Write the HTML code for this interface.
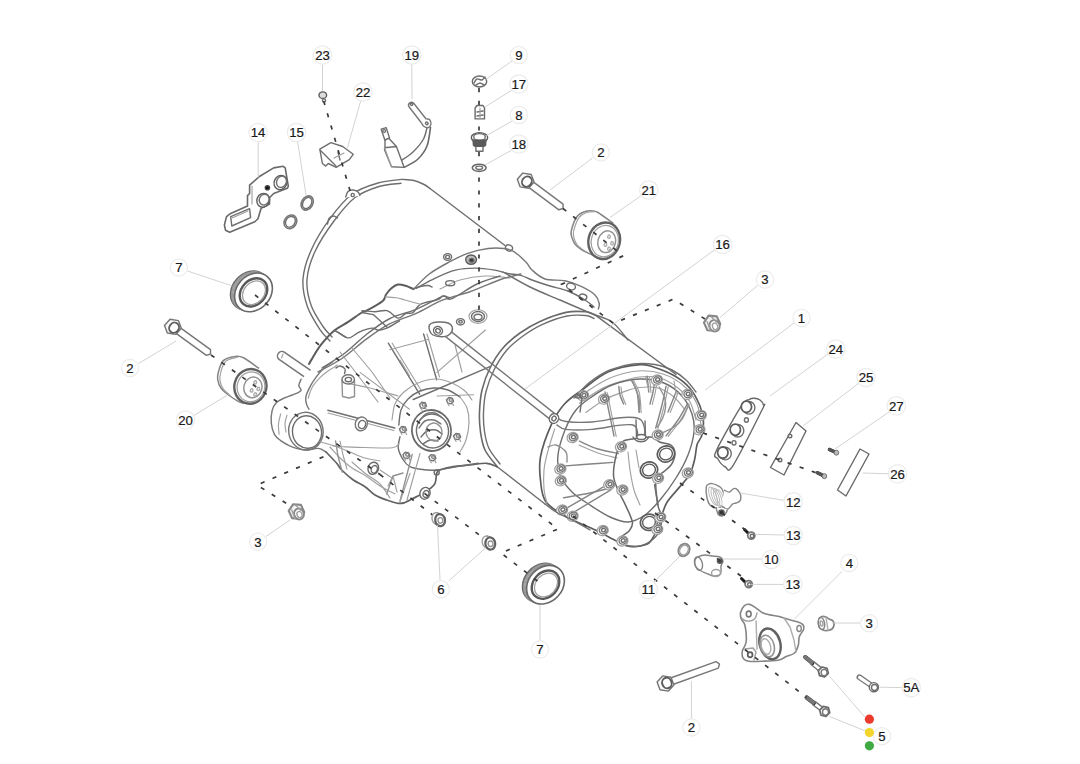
<!DOCTYPE html>
<html><head><meta charset="utf-8"><style>
html,body{margin:0;padding:0;background:#fff;width:1080px;height:764px;overflow:hidden}
svg{display:block}

.l{fill:none;stroke:#6e6e6e;stroke-width:1.4;stroke-linejoin:round;stroke-linecap:round}
.lt{fill:none;stroke:#a0a0a0;stroke-width:1.15;stroke-linejoin:round;stroke-linecap:round}
.lw{fill:#fff;stroke:#6e6e6e;stroke-width:1.4;stroke-linejoin:round}

.dash{fill:none;stroke:#3a3a3a;stroke-width:1.7;stroke-dasharray:4.2 8.6}
.ldr{fill:none;stroke:#cdcdcd;stroke-width:0.9}
.lab circle{fill:#fff;stroke:#ececec;stroke-width:1.2}
.lab text{font-family:"Liberation Sans",sans-serif;font-size:13.2px;fill:#1a1a1a;stroke:#1a1a1a;stroke-width:0.22;text-anchor:middle}

</style></head><body>
<svg width="1080" height="764" viewBox="0 0 1080 764">
<g>
<path class="l" d="M401.6 179.4 C397.7 180 386.2 180.6 378 183 C369.8 185.4 360.2 188.1 352.3 194 C344.4 199.9 337.1 208.9 330.3 218.2 C323.5 227.5 315.9 239.6 311.4 249.7 C306.8 259.8 303.7 269.6 303 279 C302.3 288.4 304.5 297.9 307.3 306.3 C310.1 314.7 316 323.5 319.8 329.3 C323.6 335.1 328.3 339.1 330 341" />
<path class="l" d="M401 183.2 C397.3 183.8 386.7 184.1 379 186.5 C371.3 188.9 362.5 191.8 355 197.5 C347.5 203.2 340.7 212 334 221 C327.3 230 319.5 241.8 315 251.5 C310.5 261.2 307.7 270.6 307 279.5 C306.3 288.4 308.3 297.2 311 305 C313.7 312.8 319.5 321.2 323 326.5 C326.5 331.8 330.5 335.2 332 337" />
<path class="l" d="M401.6 179.4 C403.7 179.6 410.3 179.7 414 180.5 C417.7 181.3 421.3 183.2 424 184.5 C426.7 185.8 429 187.8 430 188.5" />
<path class="l" d="M430 188.5 L505 245.5" />
<path class="lw" d="M345.5 197.5 C345.9 196.5 346.8 192.8 348 191.5 C349.2 190.2 351.3 189.9 353 190 C354.7 190.1 356.8 191 358 192 C359.2 193 359.7 195.3 360 196" />
<circle class="l" cx="352.7" cy="195" r="1.6" />
<path class="l" d="M327.5 224 C327.8 223.1 328 219.8 329 218.5 C330 217.2 332.1 216.1 333.5 216 C334.9 215.9 336.8 217.7 337.5 218" />
<ellipse class="lw" cx="509" cy="248" rx="3.6" ry="3" transform="rotate(20 509 248)" />
<path class="l" d="M595 314.9 C593.5 314.4 590.8 312.2 586 311.8 C581.2 311.4 573.7 310.8 566 312.4 C558.3 314 547.7 318 540 321.4 C532.3 324.8 526.2 328.6 520 333 C513.8 337.4 508 342.2 503 348 C498 353.8 493.5 361 490 368 C486.5 375 483.8 382.7 482 390 C480.2 397.3 479.8 405 479.5 412 C479.2 419 479.6 425.7 480.5 432 C481.4 438.3 482.2 444.2 485 450 C487.8 455.8 495.2 463.9 497.2 466.7" style="stroke:#696969;stroke-width:1.60"/>
<path class="l" d="M594 318.5 C592.7 318 590.5 315.9 586 315.5 C581.5 315.1 574.3 314.5 567 316 C559.7 317.5 549.3 321.3 542 324.6 C534.7 327.9 528.9 331.7 523 336 C517.1 340.3 511.3 344.8 506.5 350.5 C501.7 356.2 497.4 363.2 494 370 C490.6 376.8 487.8 384.5 486 391.5 C484.2 398.5 483.8 405.3 483.5 412 C483.2 418.7 483.6 425.4 484.5 431.5 C485.4 437.6 486.4 443.1 489 448.5 C491.6 453.9 498.2 461.4 500 464" />
<path class="l" d="M595 314.9 L676 374.5" />
<path class="l" d="M497.2 466.7 L545 504" />
<path class="l" d="M309 364 C309.4 363.3 309.5 362.8 311.5 359.6 C313.5 356.4 317 349.8 320.9 344.9 C324.8 340 330.1 334.1 334.6 330.3 C339.2 326.5 343.7 324.9 348.2 321.9 C352.7 318.9 358.7 314.4 361.8 312.5 C364.9 310.6 363.5 312.3 367 310.4 C370.5 308.5 379.6 303.5 382.7 300.9 C385.8 298.3 384.5 296.8 385.9 294.7 C387.3 292.6 389.1 290.1 391.1 288.4 C393.1 286.7 395.5 284.9 397.9 284.5 C400.3 284.1 403.1 285 405.7 285.8 C408.3 286.6 412.3 288.6 413.6 289.1" style="stroke:#5c5c5c;stroke-width:2.00"/>
<path class="l" d="M413.6 289.1 C416.2 286.6 423.4 278.5 429.3 274 C435.2 269.5 442.4 265.7 448.9 262.2 C455.4 258.7 462 255.4 468.5 253.1 C475 250.8 482.2 249.3 488.1 248.5 C494 247.7 499.4 247.9 503.8 248.5 C508.2 249.1 510.6 249.5 514.3 251.8 C518 254.1 523.1 259.2 526.1 262.2 C529.1 265.2 528.9 267.2 532 270 C535.1 272.8 539.5 277.2 545 279 C550.5 280.8 558.9 279.5 565 280.8 C571.1 282.1 576.7 284.3 581.7 286.7 C586.7 289.1 592.1 292.2 595 295 C597.9 297.8 598.7 301 599.2 303.3 C599.8 305.6 598.4 308.1 598.3 309" style="stroke:#777777;stroke-width:1.44"/>
<path class="l" d="M416.2 288.4 C419.5 286.6 429.3 280.9 435.8 277.9 C442.3 274.8 448.9 271.7 455.4 270.1 C461.9 268.5 468.4 268.1 475 268.1 C481.6 268.1 489.2 269.2 494.7 270.1 C500.2 271 503.5 272.5 507.8 273.4 C512.1 274.3 516.8 274.2 520.8 275.3 C524.8 276.4 527.1 278.2 532 280 C536.9 281.8 544 284.2 550 286 C556 287.8 562.2 288.7 568 291 C573.8 293.3 580.7 297.3 585 300 C589.3 302.7 592.5 305.8 594 307" />
<path class="lt" d="M440 289 C443.3 287.5 452.5 282.2 460 280 C467.5 277.8 476.7 276.3 485 276 C493.3 275.7 505.8 277.7 510 278" />
<ellipse class="l" cx="571" cy="286.5" rx="4.5" ry="3.2" transform="rotate(15 571 286.5)" />
<ellipse class="l" cx="583" cy="297" rx="3.8" ry="2.8" transform="rotate(15 583 297)" />
<path class="l" d="M318 372 C322 369.8 333.7 364.1 341.9 358.5 C350.1 352.9 359 344.4 367 338.6 C375 332.8 381.8 327.9 390 323.7 C398.2 319.5 407.5 317.2 416.2 313.3 C424.9 309.4 433.6 303.7 442.3 300.2 C451 296.7 461.9 294.5 468.5 292.3 C475.1 290.1 476.2 289.3 481.6 287.1 C487.1 284.9 494.7 281.5 501.2 279.3 C507.7 277.1 517.5 274.9 520.8 274" style="stroke:#777777;stroke-width:1.44"/>
<path class="l" d="M322 368 C325.8 365.5 337.5 358.7 345 353 C352.5 347.3 359.5 339.8 367 334 C374.5 328.2 381.8 322.6 390 318.5 C398.2 314.4 407.9 312.8 416.2 309.3 C424.5 305.8 434.9 299.8 439.7 297.6 C444.5 295.4 443 296.1 445 296.3 C447 296.5 446.2 300.9 451.5 298.9 C456.8 296.8 468.9 287.8 477 284 C485.1 280.2 496.2 277.3 500 276" />
<path class="l" d="M503 272 C507.5 274.5 520.5 282.3 530 287 C539.5 291.7 550 295.7 560 300 C570 304.3 581.3 309.3 590 313 C598.7 316.7 605.7 317.5 612 322 C618.3 326.5 625.3 337 628 340" />
<path class="l" d="M333.5 331.3 C334 331.3 334.6 330.3 336.6 331.3 C338.6 332.3 343.4 336.1 345.7 337.1 C348 338.2 348.1 338.4 350.3 337.6 C352.5 336.8 355.8 333.8 358.6 332.4 C361.4 331 364.6 329.9 367 329.2 C369.4 328.5 371.4 328 373.3 328.2 C375.2 328.4 376.2 330.3 378.5 330.3 C380.8 330.3 383.4 329.8 386.9 328.2 C390.4 326.6 397.4 322 399.5 320.8" />
<path class="l" d="M361.8 312.5 L373.3 314.6 L386.9 327.1" />
<path class="l" d="M334.6 330.3 L345.7 337.1" />
<path class="l" d="M362 310.7 C364.2 310.9 370.8 311.7 375 311.7 C379.2 311.7 383.1 309.6 387 310.7 C390.9 311.8 395 317.6 398.1 318.1 C401.2 318.6 403.1 314.4 405.6 313.5 C408.1 312.6 410.5 314.1 413 312.6 C415.5 311.1 416.2 306.5 420.4 304.3 C424.6 302.1 434.3 301 438 299.6 C441.7 298.2 440.6 296.2 442.6 295.9 C444.6 295.6 448.8 297.5 450 297.8" />
<path class="lt" d="M385.2 296.9 C387.1 297 393 297.3 396.3 297.8 C399.6 298.3 401 298.9 405 300 C409 301.1 417.8 303.6 420.4 304.3" />
<path class="l" d="M413 289 C414.2 288.6 417.9 287.1 420.4 286.5 C422.9 285.9 426.1 285.4 428 285.5 C429.9 285.6 431.3 286.8 432 287" />
<path class="l" d="M388.3 343.2 L419.7 394.2" />
<path class="lt" d="M392.2 343.2 L421.5 391" />
<path class="l" d="M423.6 334 L436.7 379.8" />
<path class="lt" d="M427 334 L439.5 377" />
<path class="lt" d="M455 345 L462 372" />
<path class="l" d="M413.2 399.5 L490 366.7" />
<path class="lt" d="M437 372.4 L485.4 330" />
<path class="lt" d="M437 396 L473.6 394.8" />
<path class="lt" d="M389.6 349.7 L428.9 339.3" />
<path class="lt" d="M352 348 L372 372 L390 398" />
<path class="lt" d="M340 352 L360 378 L378 402" />
<path class="lt" d="M345 383 C349.2 383.8 361.2 385.8 370 388 C378.8 390.2 393.3 394.7 398 396" />
<path class="l" d="M336 368 C336.7 367.7 338.5 365.8 340 366 C341.5 366.2 344.2 367.7 345 369 C345.8 370.3 344.6 372.8 344.5 373.6" />
<path class="l" d="M342 380 L342.5 396.5 L349 398 L354.5 396.5 L354.5 380" style="stroke:#929292"/>
<ellipse class="lw" cx="348.2" cy="379.4" rx="6.2" ry="4.6" style="stroke:#777777"/>
<ellipse class="l" cx="348.4" cy="379.6" rx="3.2" ry="2.2" />
<path class="l" d="M327.8 410.3 L394.8 428" />
<path class="lt" d="M328 413 L394 430.5" />
<ellipse class="lw" cx="361.3" cy="423.9" rx="6" ry="7" transform="rotate(20 361.3 423.9)" style="stroke:#777777"/>
<ellipse class="l" cx="362" cy="424.5" rx="3.5" ry="4.2" transform="rotate(20 362 424.5)" />
<path class="lt" d="M360.3 372.6 L409.5 409.2" />
<path class="lt" d="M400 360 L409.5 375.7" />
<ellipse class="lw" cx="447.6" cy="257" rx="4" ry="3.4" />
<ellipse class="l" cx="447.6" cy="257" rx="2" ry="1.6" />
<ellipse class="lw" cx="471.1" cy="259.6" rx="5.4" ry="4.6" style="fill:#bdbdbd;stroke:#5c5c5c"/>
<ellipse class="l" cx="471.6" cy="260.3" rx="2.4" ry="1.9" style="fill:#333"/>
<ellipse class="l" cx="450.2" cy="283.2" rx="4.5" ry="2.6" />
<ellipse class="lt" cx="478" cy="316.5" rx="9" ry="6.8" />
<ellipse class="lw" cx="478" cy="316.5" rx="6.5" ry="5" />
<ellipse class="l" cx="478" cy="317" rx="4" ry="2.8" />
<ellipse class="lw" cx="460.5" cy="321.8" rx="4" ry="3.2" />
<ellipse class="l" cx="460.5" cy="321.8" rx="1.8" ry="1.3" />
<path class="lw" d="M310.6 370.3 L284.6 352.3 A4.5 4.5 0 0 0 279.4 359.7 L304 376.7" style="stroke:#777777;stroke-width:1.52"/>
<path class="lt" d="M283 354 L281.5 358" />
<path class="l" d="M332.6 362 C331.2 363 326.6 365.6 324 368 C321.4 370.4 319.1 373.2 316.9 376.1 C314.7 379 312.4 382.2 310.6 385.6 C308.8 389 306.6 393.5 305.9 396.6 C305.2 399.7 306.1 402.3 306.6 404.4 C307.1 406.5 308.6 408.4 309 409.2" style="stroke:#777777;stroke-width:1.44"/>
<path class="lt" d="M337.3 365.1 C335.8 366.1 330.9 368.9 328 371 C325.1 373.1 322.6 375 320 377.7 C317.4 380.4 314.2 383.8 312.2 387.2 C310.2 390.6 308.9 396.4 308.2 398.2" />
<path class="l" d="M301.1 379.3 C300.7 380.4 298.8 383.8 298.8 385.6 C298.8 387.4 301.5 389 301.1 390.3 C300.7 391.6 299.3 392.1 296.4 393.4 C293.5 394.7 287.3 396.6 283.9 398.2 C280.5 399.8 278 400.8 276 402.9 C274 405 272.9 407.3 272.1 410.7 C271.3 414.1 270.9 419.4 271.3 423.3 C271.7 427.2 272.8 431.4 274.4 434.3 C276 437.2 278.3 438.8 280.7 440.6 C283.1 442.4 286 444 288.6 445.3 C291.2 446.6 293.5 447.6 296.4 448.4 C299.3 449.2 302.2 450 305.9 450 C309.6 450 315 448.1 318.4 448.4 C321.8 448.7 324.7 451.4 326 452" style="stroke:#777777;stroke-width:1.44"/>
<path class="lt" d="M280.7 413.9 C280.3 415.6 278.8 420.6 278.5 424 C278.2 427.4 279 432.6 279.1 434.3" />
<path class="lt" d="M287 415 C286.7 416.4 285.2 420.5 285 423.3 C284.8 426.1 285.8 430.6 286 432" />
<ellipse class="l" cx="305.9" cy="431.2" rx="17.2" ry="18.9" transform="rotate(-10 305.9 431.2)" style="stroke:#777777;stroke-width:1.44"/>
<ellipse class="l" cx="307" cy="432" rx="14.5" ry="16.3" transform="rotate(-10 307 432)" />
<path class="l" d="M326 452 C327.8 453.9 334.1 460.3 336.7 463.3 C339.3 466.3 338.9 467.2 341.7 470 C344.5 472.8 349.4 477.2 353.3 480 C357.2 482.8 361.4 484.2 365 486.7 C368.6 489.2 371.4 492.8 375 495 C378.6 497.2 382.8 498.6 386.7 500 C390.6 501.4 395.2 502.9 398.3 503.3 C401.4 503.7 402.5 503.3 405 502.5 C407.5 501.7 410.8 499.6 413.3 498.3 C415.8 497.1 417.5 496.4 420 495 C422.5 493.6 425.8 491.9 428.3 490 C430.8 488.1 433.6 486.1 435 483.3 C436.4 480.5 435.9 475.5 436.7 473.3 C437.5 471.1 437.2 471.1 440 470 C442.8 468.9 448.3 467.5 453.3 466.7 C458.3 465.9 464.4 465.6 470 465 C475.6 464.4 482.2 463 486.7 463.3 C491.2 463.6 495.4 466.1 497.2 466.7" style="stroke:#616161;stroke-width:1.68"/>
<path class="lt" d="M330 447 C331.7 448.8 336.3 454.5 340 458 C343.7 461.5 347.7 465 352 468 C356.3 471 361.3 473 366 476 C370.7 479 375.2 483 380 486 C384.8 489 392.5 492.7 395 494" />
<path class="l" d="M400 436.7 C399.7 438.6 397.8 444.4 398.3 448.3 C398.9 452.2 401.4 456.9 403.3 460 C405.2 463.1 407.2 465.2 410 466.7 C412.8 468.2 415.6 468.6 420 469.2 C424.4 469.8 429.8 470.6 436.7 470 C443.6 469.4 454.8 466.9 461.7 465.8 C468.6 464.7 475.5 463.7 478.3 463.3" />
<path class="l" d="M398.8 425 C399.2 422.5 399.5 414.3 401 410 C402.5 405.7 404.8 402.2 408 399 C411.2 395.8 415.7 392.8 420 391 C424.3 389.2 429.3 388.2 434 388 C438.7 387.8 443.7 388.5 448 390 C452.3 391.5 458 395.8 460 397" />
<path class="lt" d="M392 420 C392.5 417.3 393 408.7 395 404 C397 399.3 400.2 395.5 404 392 C407.8 388.5 412.7 385.2 418 383 C423.3 380.8 430.3 379 436 379 C441.7 379 447.2 381 452 383 C456.8 385 461.7 388.2 465 391 C468.3 393.8 470.8 398.5 472 400" />
<path class="lt" d="M460 397 C461.2 398.8 465.5 403.7 467 408 C468.5 412.3 469.2 417.7 469 423 C468.8 428.3 467.5 435.2 466 440 C464.5 444.8 461 450 460 452" />
<ellipse class="lw" cx="431.5" cy="430.5" rx="19.5" ry="20.5" transform="rotate(-12 431.5 430.5)" style="stroke:#696969;stroke-width:1.76"/>
<ellipse class="l" cx="432.5" cy="431" rx="16" ry="17" transform="rotate(-12 432.5 431)" />
<path class="l" d="M420 420 C421 419 423.5 415.2 426 414 C428.5 412.8 432.5 412.5 435 413 C437.5 413.5 440 416.3 441 417" style="stroke:#777777;stroke-width:1.44"/>
<path class="l" d="M419 428 C420 426.8 422.5 422.3 425 421 C427.5 419.7 431.3 419.5 434 420 C436.7 420.5 439.8 423.3 441 424" style="stroke:#777777;stroke-width:1.44"/>
<path class="l" d="M421 437 C422 436 424.5 432.2 427 431 C429.5 429.8 433.5 429.5 436 430 C438.5 430.5 441 433.3 442 434" />
<path class="l" d="M423 444 C424.2 443.3 427.5 440.5 430 440 C432.5 439.5 436.7 440.8 438 441" />
<ellipse class="l" cx="434" cy="432" rx="8" ry="9" transform="rotate(-12 434 432)" style="stroke:#929292"/>
<path class="lw" d="M426.5 405.9 L424.2 408.4 L420.7 407.8 L419.5 404.7 L421.8 402.2 L425.3 402.8Z" style="stroke:#777777;stroke-width:1.44"/>
<ellipse class="l" cx="423.8" cy="404.7" rx="1.6" ry="1.4" style="stroke:#858585"/>
<path class="lt" d="M420.5 407.8 L422 410.3" />
<path class="lt" d="M425.5 407.8 L426.5 410.3" />
<path class="lw" d="M453.5 401.2 L451.2 403.7 L447.7 403.1 L446.5 400 L448.8 397.5 L452.3 398.1Z" style="stroke:#777777;stroke-width:1.44"/>
<ellipse class="l" cx="450.8" cy="400" rx="1.6" ry="1.4" style="stroke:#858585"/>
<path class="lt" d="M447.5 403.1 L449 405.6" />
<path class="lt" d="M452.5 403.1 L453.5 405.6" />
<path class="lw" d="M460.6 437.1 L458.3 439.6 L454.8 439 L453.6 435.9 L455.9 433.4 L459.4 434Z" style="stroke:#777777;stroke-width:1.44"/>
<ellipse class="l" cx="457.9" cy="435.9" rx="1.6" ry="1.4" style="stroke:#858585"/>
<path class="lt" d="M454.6 439 L456.1 441.5" />
<path class="lt" d="M459.6 439 L460.6 441.5" />
<path class="lw" d="M435.9 458.3 L433.6 460.8 L430.1 460.2 L428.9 457.1 L431.2 454.6 L434.7 455.2Z" style="stroke:#777777;stroke-width:1.44"/>
<ellipse class="l" cx="433.2" cy="457.1" rx="1.6" ry="1.4" style="stroke:#858585"/>
<path class="lt" d="M429.9 460.2 L431.4 462.7" />
<path class="lt" d="M434.9 460.2 L435.9 462.7" />
<path class="lw" d="M410 456 L407.7 458.5 L404.2 457.9 L403 454.8 L405.3 452.3 L408.8 452.9Z" style="stroke:#777777;stroke-width:1.44"/>
<ellipse class="l" cx="407.3" cy="454.8" rx="1.6" ry="1.4" style="stroke:#858585"/>
<path class="lt" d="M404 457.9 L405.5 460.4" />
<path class="lt" d="M409 457.9 L410 460.4" />
<path class="lw" d="M406.5 430.1 L404.2 432.6 L400.7 432 L399.5 428.9 L401.8 426.4 L405.3 427Z" style="stroke:#777777;stroke-width:1.44"/>
<ellipse class="l" cx="403.8" cy="428.9" rx="1.6" ry="1.4" style="stroke:#858585"/>
<path class="lt" d="M400.5 432 L402 434.5" />
<path class="lt" d="M405.5 432 L406.5 434.5" />
<ellipse class="lw" cx="373.3" cy="468.3" rx="5.2" ry="6.2" transform="rotate(20 373.3 468.3)" style="stroke:#696969"/>
<ellipse class="l" cx="374.3" cy="469.3" rx="3" ry="3.8" transform="rotate(20 374.3 469.3)" />
<ellipse class="lw" cx="425" cy="493.3" rx="5" ry="6" transform="rotate(20 425 493.3)" style="stroke:#696969"/>
<ellipse class="l" cx="426" cy="494" rx="2.8" ry="3.5" transform="rotate(20 426 494)" />
<ellipse class="l" cx="436.7" cy="472.5" rx="2.5" ry="2.5" />
<path class="lt" d="M333 446 C334.5 446.1 336.9 446.4 342.2 446.7 C347.5 446.9 356.7 447.3 365 447.5 C373.3 447.7 386.5 448.4 392.2 447.8 C397.9 447.2 397.9 444.6 399 444" />
<path class="l" d="M335.6 441 L338 456 L342.2 472" style="stroke:#929292"/>
<path class="lt" d="M340 441 L343 455 L347 469" />
<path class="l" d="M386.7 494 L393 476 L403 473" style="stroke:#929292"/>
<path class="lt" d="M393 476 L397 492" />
<path class="lt" d="M352 462 C354.3 464 361.3 470.3 366 474 C370.7 477.7 376 480 380 484 C384 488 388.3 495.7 390 498" />
<path class="l" d="M412.2 454.4 L400 501" style="stroke:#929292"/>
<path class="lt" d="M410 473.3 L400 501.7" />
<path class="lt" d="M420 453.3 L407 500" />
<path class="lt" d="M320 441.7 C322.8 442.5 331.7 445 336.7 446.7 C341.7 448.4 345.3 450.1 350 452 C354.7 453.9 360 456.5 365 458 C370 459.5 377.5 460.5 380 461" />
<path class="lt" d="M380 470 L392 478 L388 486" />
<path class="l" d="M582 390 C589.4 384.6 598.8 376 608.5 371.8 C618.2 367.6 632.3 365.4 640 364.7 C647.7 364 649.1 365.6 654.9 367.5 C660.7 369.4 669 372.6 674.8 376 C680.6 379.4 685.6 383.2 689.7 388 C693.8 392.8 697.3 399.7 699.6 405 C701.9 410.3 702.9 414.8 703.3 419.7 C703.7 424.6 703.1 430.5 702.1 434.6 C701.1 438.8 698.4 440.5 697.1 444.6 C695.9 448.8 695.8 454.5 694.6 459.5 C693.4 464.5 692.2 469.8 689.7 474.4 C687.2 479 683.4 482.3 679.7 486.9 C676 491.5 670.2 497.2 667.3 501.8 C664.4 506.4 663.5 510.5 662.3 514.2 C661 517.9 661 520.8 659.8 524.1 C658.6 527.4 657 530.8 654.9 534.1 C652.8 537.4 651.6 541.9 647.4 544 C643.2 546.1 634.7 547 629.5 546.5 C624.3 546 622.1 543.8 616.4 541 C610.7 538.2 603.7 534 595.4 530 C587.1 526 574.9 521.8 566.6 517 C558.3 512.2 550.1 507.5 545.7 501.4 C541.4 495.3 541.4 487.8 540.5 480.4 C539.6 473 538.8 466.1 540.5 456.9 C542.2 447.7 547.1 434.1 551 425.4 C554.9 416.7 558.8 410.4 564 404.5 C569.2 398.6 574.6 395.4 582 390Z" style="stroke:#5c5c5c;stroke-width:1.68"/>
<path class="l" d="M578 394 C580 392 584.7 386 590 382 C595.3 378 602.8 373 610 370 C617.2 367 625.5 364.9 633 364 C640.5 363.1 648.5 363.5 655 364.5 C661.5 365.5 666.8 367.4 672 370 C677.2 372.6 682 376.3 686 380 C690 383.7 694.3 390 696 392" />
<path class="lt" d="M586 392 C590 389.7 601.3 381.5 610 378 C618.7 374.5 629.2 371.7 638 371 C646.8 370.3 655.3 371.5 663 374 C670.7 376.5 678.3 381 684 386 C689.7 391 694.2 397.5 697 404 C699.8 410.5 700.3 421.5 701 425" />
<path class="lt" d="M579.3 403.2 C583 400.8 595 392.3 601.5 388.8 C608 385.3 612.2 384.2 618.5 382.2 C624.8 380.2 632.6 377.7 639.5 377 C646.4 376.3 653.6 376.2 660 378 C666.4 379.8 673 384 678 388 C683 392 687 396.7 690 402 C693 407.3 695 417 696 420" />
<path class="lt" d="M585.8 412.4 C589.1 410.2 598.9 402.8 605.4 399.3 C611.9 395.8 619.3 393.4 625 391.4 C630.7 389.4 634 388.1 639.5 387.5 C645 386.9 652.2 386.4 658 388 C663.8 389.6 669.5 393.3 674 397 C678.5 400.7 683.2 407.8 685 410" />
<path class="l" d="M590 398 C596 393.8 603.7 388.2 612 385 C620.3 381.8 631.3 379.3 640 379 C648.7 378.7 657 380.2 664 383 C671 385.8 677.3 390.8 682 396 C686.7 401.2 690 408 692 414 C694 420 694.7 425.2 694 432 C693.3 438.8 691 447.3 688 455 C685 462.7 680.7 470.5 676 478 C671.3 485.5 665.2 493.8 660 500 C654.8 506.2 650.3 511.3 645 515 C639.7 518.7 633.8 521.7 628 522 C622.2 522.3 616.3 519.8 610 517 C603.7 514.2 596.3 509.2 590 505 C583.7 500.8 577 497 572 492 C567 487 562.3 481.2 560 475 C557.7 468.8 557.2 462.5 558 455 C558.8 447.5 562 437.5 565 430 C568 422.5 571.8 415.3 576 410 C580.2 404.7 584 402.2 590 398Z" />
<path class="l" d="M605 392 C605.7 395.3 607.5 404.7 609 412 C610.5 419.3 613.2 432 614 436" style="stroke:#858585"/>
<path class="lt" d="M607.2 392.5 C607.9 395.8 609.7 405.2 611.2 412.5 C612.7 419.8 615.4 432.5 616.2 436.5" />
<path class="l" d="M618.8 386.5 C619 387.9 619.2 392.1 620 395 C620.8 397.9 623 402.5 623.6 404" style="stroke:#858585"/>
<path class="lt" d="M621 387 C621.2 388.4 621.4 392.6 622.2 395.5 C623 398.4 625.2 403 625.8 404.5" />
<path class="l" d="M631.4 380.2 C632.3 382.2 635.7 386.7 637 392 C638.3 397.3 638.7 408.7 639 412" style="stroke:#858585"/>
<path class="lt" d="M633.6 380.7 C634.5 382.7 637.9 387.2 639.2 392.5 C640.5 397.8 640.9 409.2 641.2 412.5" />
<path class="l" d="M647.1 376.3 C647.2 377.6 647.7 381.4 648 384 C648.3 386.6 648.6 390.7 648.7 392" style="stroke:#858585"/>
<path class="lt" d="M649.3 376.8 C649.5 378.1 649.9 381.9 650.2 384.5 C650.5 387.1 650.8 391.2 650.9 392.5" />
<path class="l" d="M666.1 386.2 C665.4 389.3 663.7 398 662 405 C660.3 412 656.8 424.2 655.7 428.1" style="stroke:#858585"/>
<path class="lt" d="M668.3 386.7 C667.6 389.8 665.9 398.5 664.2 405.5 C662.5 412.5 659 424.8 657.9 428.6" />
<path class="l" d="M687 404.5 C685.5 407.1 681.5 414.8 678 420 C674.5 425.2 668.1 433.2 666.1 435.9" style="stroke:#858585"/>
<path class="lt" d="M689.2 405 C687.7 407.6 683.7 415.3 680.2 420.5 C676.7 425.7 670.3 433.8 668.3 436.4" />
<path class="l" d="M655 380 C654.7 382 653.8 388 653 392 C652.2 396 650.5 402 650 404" style="stroke:#858585"/>
<path class="lt" d="M657.2 380.5 C656.9 382.5 656 388.5 655.2 392.5 C654.4 396.5 652.7 402.5 652.2 404.5" />
<path class="l" d="M676 392 C675.3 393.7 673.3 398.7 672 402 C670.7 405.3 668.7 410.3 668 412" style="stroke:#858585"/>
<path class="lt" d="M678.2 392.5 C677.5 394.2 675.5 399.2 674.2 402.5 C672.9 405.8 670.9 410.8 670.2 412.5" />
<path class="l" d="M579.4 441.2 C582.5 442.5 591.5 446.9 598 449 C604.5 451.1 614.9 452.8 618.3 453.5" style="stroke:#858585"/>
<path class="lt" d="M579 445 C582.2 446.3 591.7 450.8 598 453 C604.3 455.2 613.8 457.2 617 458" />
<path class="l" d="M565.3 465.9 C569.4 465.6 582 464.6 590 464 C598 463.4 609.2 462.7 613 462.4" style="stroke:#858585"/>
<path class="l" d="M563.5 497.7 C567.9 496.9 581.8 494.8 590 493 C598.2 491.2 609.2 488.1 613 487.1" style="stroke:#858585"/>
<path class="l" d="M568 507.4 L607.7 484.4" style="stroke:#858585"/>
<path class="l" d="M571.5 513.6 L611.2 489.7" style="stroke:#858585"/>
<path class="lt" d="M554.7 428.8 C553.5 432.6 549.5 444.9 547.7 451.8 C545.9 458.7 544.6 463.6 544 470 C543.4 476.4 543.6 484.5 544.1 490 C544.6 495.5 546.5 500.8 547 503" />
<path class="l" d="M548 447 C549.3 446.7 553 444.2 556 445 C559 445.8 564.2 449.2 566 452 C567.8 454.8 566.8 460.3 567 462" style="stroke:#929292"/>
<path class="l" d="M622 442 C625 439.1 629.2 439.5 634 438.7 C638.8 437.9 646.7 436.4 651 437 C655.3 437.6 656.2 440.6 659.6 442 C663 443.4 669 443.5 671.5 445.5 C674 447.5 674.9 450.9 674.9 454 C674.9 457.1 673.2 461.5 671.5 464.3 C669.8 467.1 667.3 468.4 664.7 471 C662.1 473.6 657.1 474.3 656 480 C654.9 485.7 657 499.1 657.9 505 C658.8 510.9 660.9 511.2 661.3 515.4 C661.6 519.6 661.5 525.9 660 530 C658.5 534.1 655.3 537.3 652 540 C648.7 542.7 644.5 545.2 640 546 C635.5 546.8 628.5 546.2 625 545 C621.5 543.8 618.3 541.3 619 539 C619.7 536.7 626.8 533.8 629 531 C631.2 528.2 633 526.5 632.4 522.2 C631.8 517.9 627.8 510.2 625.5 505.1 C623.2 500 620.7 496.3 618.7 491.5 C616.7 486.7 614.1 482.1 613.6 476.2 C613.1 470.3 614.6 461.7 616 456 C617.4 450.3 619 444.9 622 442Z" style="stroke:#696969;stroke-width:1.52"/>
<path class="lt" d="M628 452 C628.3 455 629 463.7 630 470 C631 476.3 632.3 484.2 634 490 C635.7 495.8 639 502.5 640 505" />
<path class="lt" d="M636 450 C636.5 453 638.5 465 639 468" />
<path class="l" d="M654.5 484.7 L657.9 505.1" />
<path class="l" d="M636 420 L636.5 437" />
<path class="l" d="M645 421 L645.5 437" />
<path class="l" d="M633 437 C633.7 437.7 635 440.3 637 441 C639 441.7 643 441.7 645 441 C647 440.3 648.3 437.7 649 437" />
<ellipse class="lw" cx="649" cy="470" rx="8.8" ry="8" transform="rotate(-20 649 470)" style="stroke:#5c5c5c;stroke-width:1.76"/>
<ellipse class="l" cx="649" cy="470" rx="6.5" ry="5.8" transform="rotate(-20 649 470)" style="stroke:#5c5c5c"/>
<ellipse class="lw" cx="666" cy="454" rx="8.8" ry="8" transform="rotate(-20 666 454)" style="stroke:#5c5c5c;stroke-width:1.76"/>
<ellipse class="l" cx="666" cy="454" rx="6.5" ry="5.8" transform="rotate(-20 666 454)" style="stroke:#5c5c5c"/>
<ellipse class="lw" cx="649" cy="522.3" rx="8.8" ry="8" transform="rotate(-20 649 522.3)" style="stroke:#5c5c5c;stroke-width:1.76"/>
<ellipse class="l" cx="649" cy="522.3" rx="6.5" ry="5.8" transform="rotate(-20 649 522.3)" style="stroke:#5c5c5c"/>
<ellipse class="lw" cx="656.9" cy="380" rx="5.6" ry="5" transform="rotate(-20 656.9 380)" style="stroke:#a1a1a1;stroke-width:1.28"/>
<ellipse class="l" cx="657.5" cy="379.6" rx="4" ry="3.5" transform="rotate(-20 657.5 379.6)" style="stroke:#777777;stroke-width:1.36"/>
<ellipse class="l" cx="657.7" cy="379.5" rx="2" ry="1.7" transform="rotate(-20 657.7 379.5)" />
<ellipse class="lw" cx="687.3" cy="394.4" rx="5.6" ry="5" transform="rotate(-20 687.3 394.4)" style="stroke:#a1a1a1;stroke-width:1.28"/>
<ellipse class="l" cx="687.9" cy="394" rx="4" ry="3.5" transform="rotate(-20 687.9 394)" style="stroke:#777777;stroke-width:1.36"/>
<ellipse class="l" cx="688.1" cy="393.9" rx="2" ry="1.7" transform="rotate(-20 688.1 393.9)" />
<ellipse class="lw" cx="700.9" cy="415.4" rx="5.6" ry="5" transform="rotate(-20 700.9 415.4)" style="stroke:#a1a1a1;stroke-width:1.28"/>
<ellipse class="l" cx="701.5" cy="415" rx="4" ry="3.5" transform="rotate(-20 701.5 415)" style="stroke:#777777;stroke-width:1.36"/>
<ellipse class="l" cx="701.7" cy="414.9" rx="2" ry="1.7" transform="rotate(-20 701.7 414.9)" />
<ellipse class="lw" cx="699.4" cy="429.8" rx="5.6" ry="5" transform="rotate(-20 699.4 429.8)" style="stroke:#a1a1a1;stroke-width:1.28"/>
<ellipse class="l" cx="700" cy="429.4" rx="4" ry="3.5" transform="rotate(-20 700 429.4)" style="stroke:#777777;stroke-width:1.36"/>
<ellipse class="l" cx="700.2" cy="429.3" rx="2" ry="1.7" transform="rotate(-20 700.2 429.3)" />
<ellipse class="lw" cx="604" cy="399.1" rx="5.6" ry="5" transform="rotate(-20 604 399.1)" style="stroke:#a1a1a1;stroke-width:1.28"/>
<ellipse class="l" cx="604.6" cy="398.7" rx="4" ry="3.5" transform="rotate(-20 604.6 398.7)" style="stroke:#777777;stroke-width:1.36"/>
<ellipse class="l" cx="604.8" cy="398.6" rx="2" ry="1.7" transform="rotate(-20 604.8 398.6)" />
<ellipse class="lw" cx="583.1" cy="395.7" rx="5.6" ry="5" transform="rotate(-20 583.1 395.7)" style="stroke:#a1a1a1;stroke-width:1.28"/>
<ellipse class="l" cx="583.7" cy="395.3" rx="4" ry="3.5" transform="rotate(-20 583.7 395.3)" style="stroke:#777777;stroke-width:1.36"/>
<ellipse class="l" cx="583.9" cy="395.2" rx="2" ry="1.7" transform="rotate(-20 583.9 395.2)" />
<ellipse class="lw" cx="572.6" cy="437.6" rx="5.6" ry="5" transform="rotate(-20 572.6 437.6)" style="stroke:#a1a1a1;stroke-width:1.28"/>
<ellipse class="l" cx="573.2" cy="437.2" rx="4" ry="3.5" transform="rotate(-20 573.2 437.2)" style="stroke:#777777;stroke-width:1.36"/>
<ellipse class="l" cx="573.4" cy="437.1" rx="2" ry="1.7" transform="rotate(-20 573.4 437.1)" />
<ellipse class="lw" cx="560.3" cy="469" rx="5.6" ry="5" transform="rotate(-20 560.3 469)" style="stroke:#a1a1a1;stroke-width:1.28"/>
<ellipse class="l" cx="560.9" cy="468.6" rx="4" ry="3.5" transform="rotate(-20 560.9 468.6)" style="stroke:#777777;stroke-width:1.36"/>
<ellipse class="l" cx="561.1" cy="468.5" rx="2" ry="1.7" transform="rotate(-20 561.1 468.5)" />
<ellipse class="lw" cx="560.8" cy="480.8" rx="5.6" ry="5" transform="rotate(-20 560.8 480.8)" style="stroke:#a1a1a1;stroke-width:1.28"/>
<ellipse class="l" cx="561.4" cy="480.4" rx="4" ry="3.5" transform="rotate(-20 561.4 480.4)" style="stroke:#777777;stroke-width:1.36"/>
<ellipse class="l" cx="561.6" cy="480.3" rx="2" ry="1.7" transform="rotate(-20 561.6 480.3)" />
<ellipse class="lw" cx="562.1" cy="510.1" rx="5.6" ry="5" transform="rotate(-20 562.1 510.1)" style="stroke:#a1a1a1;stroke-width:1.28"/>
<ellipse class="l" cx="562.7" cy="509.7" rx="4" ry="3.5" transform="rotate(-20 562.7 509.7)" style="stroke:#777777;stroke-width:1.36"/>
<ellipse class="l" cx="562.9" cy="509.6" rx="2" ry="1.7" transform="rotate(-20 562.9 509.6)" />
<ellipse class="lw" cx="572.6" cy="516.2" rx="5.6" ry="5" transform="rotate(-20 572.6 516.2)" style="stroke:#a1a1a1;stroke-width:1.28"/>
<ellipse class="l" cx="573.2" cy="515.8" rx="4" ry="3.5" transform="rotate(-20 573.2 515.8)" style="stroke:#777777;stroke-width:1.36"/>
<ellipse class="l" cx="573.4" cy="515.7" rx="2" ry="1.7" transform="rotate(-20 573.4 515.7)" />
<ellipse class="lw" cx="602.7" cy="530.6" rx="5.6" ry="5" transform="rotate(-20 602.7 530.6)" style="stroke:#a1a1a1;stroke-width:1.28"/>
<ellipse class="l" cx="603.3" cy="530.2" rx="4" ry="3.5" transform="rotate(-20 603.3 530.2)" style="stroke:#777777;stroke-width:1.36"/>
<ellipse class="l" cx="603.5" cy="530.1" rx="2" ry="1.7" transform="rotate(-20 603.5 530.1)" />
<ellipse class="lw" cx="622.4" cy="541" rx="5.6" ry="5" transform="rotate(-20 622.4 541)" style="stroke:#a1a1a1;stroke-width:1.28"/>
<ellipse class="l" cx="623" cy="540.6" rx="4" ry="3.5" transform="rotate(-20 623 540.6)" style="stroke:#777777;stroke-width:1.36"/>
<ellipse class="l" cx="623.2" cy="540.5" rx="2" ry="1.7" transform="rotate(-20 623.2 540.5)" />
<ellipse class="lw" cx="609.2" cy="484.7" rx="5.6" ry="5" transform="rotate(-20 609.2 484.7)" style="stroke:#a1a1a1;stroke-width:1.28"/>
<ellipse class="l" cx="609.8" cy="484.3" rx="4" ry="3.5" transform="rotate(-20 609.8 484.3)" style="stroke:#777777;stroke-width:1.36"/>
<ellipse class="l" cx="610" cy="484.2" rx="2" ry="1.7" transform="rotate(-20 610 484.2)" />
<ellipse class="lw" cx="622.4" cy="490" rx="5.6" ry="5" transform="rotate(-20 622.4 490)" style="stroke:#a1a1a1;stroke-width:1.28"/>
<ellipse class="l" cx="623" cy="489.6" rx="4" ry="3.5" transform="rotate(-20 623 489.6)" style="stroke:#777777;stroke-width:1.36"/>
<ellipse class="l" cx="623.2" cy="489.5" rx="2" ry="1.7" transform="rotate(-20 623.2 489.5)" />
<ellipse class="lw" cx="621" cy="446.8" rx="5.6" ry="5" transform="rotate(-20 621 446.8)" style="stroke:#a1a1a1;stroke-width:1.28"/>
<ellipse class="l" cx="621.6" cy="446.4" rx="4" ry="3.5" transform="rotate(-20 621.6 446.4)" style="stroke:#777777;stroke-width:1.36"/>
<ellipse class="l" cx="621.8" cy="446.3" rx="2" ry="1.7" transform="rotate(-20 621.8 446.3)" />
<ellipse class="lw" cx="657.7" cy="435" rx="5.6" ry="5" transform="rotate(-20 657.7 435)" style="stroke:#a1a1a1;stroke-width:1.28"/>
<ellipse class="l" cx="658.3" cy="434.6" rx="4" ry="3.5" transform="rotate(-20 658.3 434.6)" style="stroke:#777777;stroke-width:1.36"/>
<ellipse class="l" cx="658.5" cy="434.5" rx="2" ry="1.7" transform="rotate(-20 658.5 434.5)" />
<ellipse class="lw" cx="687.8" cy="473" rx="5.6" ry="5" transform="rotate(-20 687.8 473)" style="stroke:#a1a1a1;stroke-width:1.28"/>
<ellipse class="l" cx="688.4" cy="472.6" rx="4" ry="3.5" transform="rotate(-20 688.4 472.6)" style="stroke:#777777;stroke-width:1.36"/>
<ellipse class="l" cx="688.6" cy="472.5" rx="2" ry="1.7" transform="rotate(-20 688.6 472.5)" />
<ellipse class="lw" cx="660.3" cy="517.4" rx="5.6" ry="5" transform="rotate(-20 660.3 517.4)" style="stroke:#a1a1a1;stroke-width:1.28"/>
<ellipse class="l" cx="660.9" cy="517" rx="4" ry="3.5" transform="rotate(-20 660.9 517)" style="stroke:#777777;stroke-width:1.36"/>
<ellipse class="l" cx="661.1" cy="516.9" rx="2" ry="1.7" transform="rotate(-20 661.1 516.9)" />
<ellipse class="lw" cx="658.1" cy="478.3" rx="5.6" ry="5" transform="rotate(-20 658.1 478.3)" style="stroke:#a1a1a1;stroke-width:1.28"/>
<ellipse class="l" cx="658.7" cy="477.9" rx="4" ry="3.5" transform="rotate(-20 658.7 477.9)" style="stroke:#777777;stroke-width:1.36"/>
<ellipse class="l" cx="658.9" cy="477.8" rx="2" ry="1.7" transform="rotate(-20 658.9 477.8)" />
<ellipse class="lw" cx="657.3" cy="529.4" rx="5.6" ry="5" transform="rotate(-20 657.3 529.4)" style="stroke:#a1a1a1;stroke-width:1.28"/>
<ellipse class="l" cx="657.9" cy="529" rx="4" ry="3.5" transform="rotate(-20 657.9 529)" style="stroke:#777777;stroke-width:1.36"/>
<ellipse class="l" cx="658.1" cy="528.9" rx="2" ry="1.7" transform="rotate(-20 658.1 528.9)" />
<path class="l" d="M555 417 C556.8 417.8 559.8 420.7 566 421.5 C572.2 422.3 583.3 422.6 592 422 C600.7 421.4 611 418.8 618 418 C625 417.2 630.2 417.2 634 417.5 C637.8 417.8 639.2 418.2 641 420 C642.8 421.8 643.9 425.2 644.5 428 C645.1 430.8 644.5 435.5 644.5 437" style="stroke:#777777"/>
<path class="l" d="M557 425 C558.5 425.7 560.2 428.7 566 429.4 C571.8 430.1 583.3 430.1 592 429.4 C600.7 428.7 611.3 426.2 618 425.4 C624.7 424.6 628.9 424.4 632 424.8 C635.1 425.2 635.5 426 636.5 428 C637.5 430 637.8 435.5 638 437" style="stroke:#777777"/>
<ellipse class="lw" cx="641.3" cy="437" rx="4.5" ry="2.5" />
<path class="l" d="M574 398 L578 395 L582 398 L580 412" />
<ellipse class="l" cx="578" cy="396" rx="3" ry="2" />
<path class="l" d="M688.6 404 C687.6 406.4 684.8 414.8 682.4 418.6 C680 422.4 677.5 424.6 674 427 C670.5 429.4 663.5 432.2 661.4 433.3" style="stroke:#929292"/>
<path class="l" d="M659.3 387.2 C660.2 388.9 663.5 394.4 664.6 397.7 C665.7 401 666 403.6 665.6 407.1 C665.2 410.6 663.9 415.3 662.5 418.6 C661.1 421.9 658.1 425.6 657.2 427" style="stroke:#929292"/>
<path class="l" d="M632 379.9 C632.7 381.6 634.8 386.7 636 390 C637.2 393.3 638.8 396.1 639.4 399.8 C640 403.5 639.4 410.3 639.4 412.4" style="stroke:#929292"/>
<path class="lt" d="M645.7 376.8 C645.9 377.8 646.5 380.9 647 383 C647.5 385.1 648.5 388.2 648.8 389.3" />
<path class="lt" d="M674 381 C674.2 382 674.7 384.9 675 387 C675.3 389.1 675.8 392.4 676 393.5" />
<path class="l" d="M545 504 C546.8 505.3 551.5 509.3 556 512 C560.5 514.7 566.3 517 572 520 C577.7 523 587 528.3 590 530" />
<path class="l" d="M437.7 330.4 L552.7 421.4" style="stroke:#777777"/>
<path class="l" d="M442.3 324.6 L557.3 415.6" style="stroke:#777777"/>
<path class="lw" d="M429 328 C428.7 326.1 429.5 324.5 431 323.5 C432.5 322.5 435.2 322.1 438 322 C440.8 321.9 445.6 322 448 323 C450.4 324 452.1 326.2 452.4 328 C452.7 329.8 451.4 332.6 450 334 C448.6 335.4 446.8 336.4 444 336.6 C441.2 336.8 435.5 336.4 433 335 C430.5 333.6 429.3 329.9 429 328Z" />
<ellipse class="lw" cx="438" cy="330.8" rx="4.6" ry="4.2" transform="rotate(35 438 330.8)" style="stroke:#696969"/>
<ellipse class="l" cx="438" cy="330.8" rx="2.4" ry="2.1" transform="rotate(35 438 330.8)" />
<ellipse class="lw" cx="554" cy="418.5" rx="4.5" ry="5" transform="rotate(35 554 418.5)" style="stroke:#696969"/>
<ellipse class="l" cx="554" cy="418.5" rx="2" ry="2.4" transform="rotate(35 554 418.5)" />
<path class="lw" d="M249.6 185.1 L259 176.8 L273.7 167.9 L283.1 166.3 L285.2 167.9 L288.3 186.2 L287.3 188.3 L273.7 193.5 L269.5 197.7 L269.5 204 L261.1 208.2 L258 218.7 L254.8 221.8 L229.7 232.3 L225.5 230.2 L224.4 225 L226.5 216.6 L230.7 213.4 L247.5 206.1 L247.5 195.6 L249.6 193.5Z" style="stroke:#696969;stroke-width:1.60"/>
<path class="l" d="M230.7 216.6 L249.6 208.7 L250.6 217.6 L231.8 226Z" />
<path class="lt" d="M232 218 L248 211" />
<ellipse class="lw" cx="280.5" cy="182.5" rx="6.3" ry="7.3" transform="rotate(25 280.5 182.5)" style="stroke:#5c5c5c"/>
<ellipse class="l" cx="281.5" cy="181.8" rx="4.8" ry="5.8" transform="rotate(25 281.5 181.8)" />
<ellipse class="lw" cx="263.2" cy="200.3" rx="6.3" ry="7" transform="rotate(25 263.2 200.3)" style="stroke:#5c5c5c"/>
<ellipse class="l" cx="264.2" cy="199.6" rx="4.8" ry="5.5" transform="rotate(25 264.2 199.6)" />
<circle class="l" cx="267.4" cy="187.8" r="2.1" style="fill:#111;stroke:#414141"/>
<path class="lt" d="M252 186 L252 204" />
<ellipse class="l" cx="307.2" cy="203" rx="5.6" ry="7.5" transform="rotate(30 307.2 203)" style="stroke:#777777;stroke-width:1.60"/>
<ellipse class="l" cx="307.2" cy="203" rx="4.2" ry="6" transform="rotate(30 307.2 203)" />
<ellipse class="l" cx="290.4" cy="221.8" rx="6" ry="7.2" transform="rotate(35 290.4 221.8)" style="stroke:#777777;stroke-width:1.60"/>
<ellipse class="l" cx="290.4" cy="221.8" rx="4.5" ry="5.7" transform="rotate(35 290.4 221.8)" />
<ellipse class="lw" cx="322.8" cy="95.2" rx="3.8" ry="3.3" style="stroke:#5c5c5c;fill:#ddd"/>
<ellipse class="l" cx="324" cy="100.5" rx="1.6" ry="1.6" />
<path class="lw" d="M319.8 149.1 L330.9 142.6 L342.7 146.5 L353.2 154.3 L349.3 159.6 L336.2 167.4 L328.3 163.5 L325.7 166.1 L322.4 163.5Z" />
<path class="l" d="M320.5 150.5 L336 166" />
<path class="l" d="M338 152 L340 160" />
<path class="lt" d="M334 158 L344 153" />
<path class="l" d="M404.2 167.4 C406.5 166 414.2 162.6 418 159 C421.8 155.4 424.9 151.2 427 146 C429.1 140.8 429.9 130.6 430.5 127.5" style="stroke:#696969;stroke-width:1.60"/>
<path class="l" d="M400.5 161 C402.6 159.5 409.2 155.7 413 152 C416.8 148.3 421.1 143.4 423.5 139 C425.9 134.6 426.8 127.8 427.5 125.5" />
<path class="lw" d="M426.5 119.5 L413.5 103 A3 3 0 0 0 408.8 106.5 L421.5 123" style="stroke:#777777"/>
<ellipse class="l" cx="411.5" cy="104.2" rx="1.3" ry="1.1" transform="rotate(40 411.5 104.2)" />
<path class="lw" d="M421.5 123 C421.9 123.6 422.8 125.8 424 126.5 C425.2 127.2 427.3 127.9 428.5 127.5 C429.7 127.1 430.8 125.3 431 124 C431.2 122.7 430.2 120.3 429.5 119.5 C428.8 118.7 427 119.1 426.5 119" style="stroke:#777777"/>
<ellipse class="l" cx="426.8" cy="123.3" rx="1.4" ry="1.2" transform="rotate(40 426.8 123.3)" />
<path class="lw" d="M381.2 129.2 L386.2 127.6 L389.5 138 L384.8 140Z" />
<circle class="l" cx="384.2" cy="131" r="1.4" />
<path class="l" d="M385 140 L385 147.8" />
<path class="l" d="M389 138.5 L396.4 146.5" />
<path class="lw" d="M384.6 147.8 L396.4 146.5 L404.2 167.4 L391.5 166.8 L384.6 150Z" />
<path class="lt" d="M384.6 147.8 L391.5 166.8" />
<path class="lw" d="M526 185.3 L558.9 209.8 L563 208.5 L563.1 204.2 L530.2 179.7" style="stroke:#777777;stroke-width:1.44"/>
<path class="lw" d="M534.1 182.1 L528.6 188.3 L520.2 186.9 L517.3 179.3 L522.8 173.1 L531.2 174.5Z" style="stroke:#777777;stroke-width:1.44;fill:#fafafa"/>
<ellipse class="lw" cx="526.9" cy="181.6" rx="4.7" ry="5.3" transform="rotate(36.697468907328194 526.9 181.6)" style="stroke:#5c5c5c;stroke-width:1.92"/>
<path class="l" d="M612.9 223.1 C610.4 221.3 601.4 214.5 598 212.5 C594.6 210.5 594.7 211 592.5 210.9 C590.3 210.8 587.2 210.7 584.6 211.7 C582 212.7 579 213.6 576.8 216.8 C574.6 220 572.1 227.4 571.3 230.9 C570.5 234.4 571.5 235.8 572.1 238 C572.8 240.2 573.8 242.4 575.2 244.2 C576.6 246 578.6 247.6 580.7 249 C582.8 250.4 585.4 251.7 587.8 252.9 C590.1 254.1 593.6 255.5 594.8 256" style="stroke:#858585;stroke-width:1.52"/>
<path class="lt" d="M594.7 211.7 C593.4 211.8 589.4 211.5 586.8 212.5 C584.2 213.5 581.2 214.4 579 217.6 C576.8 220.8 574.3 228.2 573.5 231.7 C572.7 235.2 573.7 236.6 574.3 238.8 C575 241 576 243.2 577.4 245 C578.8 246.8 582 249 582.9 249.8" />
<ellipse class="lw" cx="604.2" cy="240.7" rx="15.7" ry="18.4" transform="rotate(15 604.2 240.7)" style="stroke:#616161;stroke-width:2.40"/>
<ellipse class="l" cx="604.8" cy="241.1" rx="13.5" ry="15.8" transform="rotate(15 604.8 241.1)" style="stroke:#a0a0a0;stroke-width:1.28"/>
<ellipse class="l" cx="606.7" cy="241.7" rx="8.8" ry="11" transform="rotate(15 606.7 241.7)" style="stroke:#929292;stroke-width:1.44"/>
<ellipse class="l" cx="609" cy="236.7" rx="1.3" ry="1.7" transform="rotate(15 609 236.7)" style="stroke:#adadad"/>
<ellipse class="l" cx="612.1" cy="243.2" rx="1.3" ry="1.7" transform="rotate(15 612.1 243.2)" style="stroke:#adadad"/>
<ellipse class="l" cx="605.4" cy="244.7" rx="1.3" ry="1.7" transform="rotate(15 605.4 244.7)" style="stroke:#adadad"/>
<ellipse class="l" cx="609" cy="248.7" rx="1.3" ry="1.7" transform="rotate(15 609 248.7)" style="stroke:#adadad"/>
<ellipse class="lw" cx="249.5" cy="290.4" rx="21" ry="17" transform="rotate(-48 249.5 290.4)" style="stroke:#696969;stroke-width:1.76;fill:#e6e6e6"/>
<ellipse class="l" cx="250.5" cy="290.9" rx="21" ry="17" transform="rotate(-48 250.5 290.9)" style="stroke:#959595;stroke-width:1.12"/>
<ellipse class="l" cx="251.5" cy="291.4" rx="21" ry="17" transform="rotate(-48 251.5 291.4)" style="stroke:#959595;stroke-width:1.12"/>
<ellipse class="l" cx="252.5" cy="291.9" rx="21" ry="17" transform="rotate(-48 252.5 291.9)" style="stroke:#959595;stroke-width:1.12"/>
<ellipse class="lw" cx="253.5" cy="292.4" rx="21" ry="17" transform="rotate(-48 253.5 292.4)" style="stroke:#696969;stroke-width:1.60"/>
<ellipse class="l" cx="253.5" cy="292.4" rx="15.5" ry="12.2" transform="rotate(-48 253.5 292.4)" style="stroke:#585858;stroke-width:2.40"/>
<ellipse class="l" cx="254" cy="292.7" rx="13" ry="10.2" transform="rotate(-48 254 292.7)" style="stroke:#a0a0a0;stroke-width:1.28"/>
<path class="lw" d="M173.3 331.4 L206.4 355.4 L210.5 354 L210.5 349.7 L177.4 325.7" style="stroke:#777777;stroke-width:1.44"/>
<path class="lw" d="M181.3 328.2 L175.8 334.4 L167.4 333 L164.5 325.4 L170 319.2 L178.4 320.6Z" style="stroke:#777777;stroke-width:1.44;fill:#fafafa"/>
<ellipse class="lw" cx="174.1" cy="327.7" rx="4.7" ry="5.3" transform="rotate(35.88213724620421 174.1 327.7)" style="stroke:#5c5c5c;stroke-width:1.92"/>
<path class="l" d="M258.5 368 C256 366.3 247.4 359.7 243.5 357.8 C239.6 355.9 238.6 356 235.2 356.5 C231.8 357 226.1 357.9 223.3 360.6 C220.5 363.3 219.2 369.3 218.3 372.5 C217.4 375.7 217.4 377.2 217.8 379.8 C218.2 382.4 219.3 385.6 221 388 C222.7 390.4 224.9 392.2 227.9 394.5 C230.9 396.8 236.3 400.4 239 401.8 C241.7 403.2 243.2 402.8 244 403" style="stroke:#858585;stroke-width:1.52"/>
<path class="lt" d="M237.4 357.3 C235.4 358 228.3 358.7 225.5 361.4 C222.7 364.1 221.4 370.1 220.5 373.3 C219.6 376.5 219.6 378 220 380.6 C220.4 383.2 221.5 386.4 223.2 388.8 C224.9 391.2 228.9 394.2 230.1 395.3" />
<ellipse class="lw" cx="250.4" cy="386.4" rx="16" ry="17.4" transform="rotate(15 250.4 386.4)" style="stroke:#616161;stroke-width:2.40"/>
<ellipse class="l" cx="251" cy="386.8" rx="13.8" ry="15" transform="rotate(15 251 386.8)" style="stroke:#a0a0a0;stroke-width:1.28"/>
<ellipse class="l" cx="252.9" cy="387.4" rx="9" ry="10.4" transform="rotate(15 252.9 387.4)" style="stroke:#929292;stroke-width:1.44"/>
<ellipse class="l" cx="255.2" cy="382.4" rx="1.3" ry="1.7" transform="rotate(15 255.2 382.4)" style="stroke:#adadad"/>
<ellipse class="l" cx="258.3" cy="388.9" rx="1.3" ry="1.7" transform="rotate(15 258.3 388.9)" style="stroke:#adadad"/>
<ellipse class="l" cx="251.6" cy="390.4" rx="1.3" ry="1.7" transform="rotate(15 251.6 390.4)" style="stroke:#adadad"/>
<ellipse class="l" cx="255.2" cy="394.4" rx="1.3" ry="1.7" transform="rotate(15 255.2 394.4)" style="stroke:#adadad"/>
<path class="lw" d="M754.2 398.3 C756 398.4 758.5 398.9 760 400 C761.5 401.1 763.1 403.2 763.4 404.9 C763.7 406.6 767 400 762 410 C757 420 739.4 455.6 733.3 465.1 C727.2 474.6 728 468.1 725.4 467 C722.8 465.9 719.1 461.2 717.6 458.5 C716.1 455.8 712.4 459.4 716.3 450.7 C720.2 442 735.8 414.7 741.2 406.2 C746.7 397.7 746.8 400.9 749 399.6 C751.2 398.3 752.4 398.2 754.2 398.3Z" style="stroke:#696969"/>
<ellipse class="l" cx="748.9" cy="407.8" rx="6" ry="6.3" />
<ellipse class="lw" cx="746.4" cy="406.8" rx="5.2" ry="5.6" style="stroke:#5c5c5c;stroke-width:1.76"/>
<ellipse class="l" cx="737.8" cy="430.7" rx="6" ry="6.3" />
<ellipse class="lw" cx="735.3" cy="429.7" rx="5.2" ry="5.6" style="stroke:#5c5c5c;stroke-width:1.76"/>
<ellipse class="l" cx="725.3" cy="453.6" rx="6" ry="6.3" />
<ellipse class="lw" cx="722.8" cy="452.6" rx="5.2" ry="5.6" style="stroke:#5c5c5c;stroke-width:1.76"/>
<ellipse class="l" cx="746.4" cy="420" rx="2" ry="2.2" />
<ellipse class="l" cx="734" cy="442.8" rx="2" ry="2.2" />
<path class="lw" d="M796 422.5 L806 431 L784 475 L770.5 467.5Z" style="stroke:#696969"/>
<ellipse class="l" cx="790" cy="436" rx="1.8" ry="1.8" />
<ellipse class="l" cx="780" cy="460" rx="1.8" ry="1.8" />
<path class="lw" d="M860 449 L869 454 L846 496 L837.5 490Z" style="stroke:#696969"/>
<path class="l" d="M829.5 449.5 L835 452" style="stroke: #1a1a1a;stroke-width: 3.4;stroke-linecap:round"/>
<path class="l" d="M829.5 449.5 L835 452" style="stroke: #555;stroke-width: 3.4;stroke-dasharray:0.6 1.2"/>
<ellipse class="lw" cx="836.4" cy="452.7" rx="2.3" ry="2.5" style="stroke: #666;stroke-width: 0.9;fill:#bbb"/>
<path class="l" d="M817.5 472.7 L823 475.5" style="stroke: #1a1a1a;stroke-width: 3.4;stroke-linecap:round"/>
<path class="l" d="M817.5 472.7 L823 475.5" style="stroke: #555;stroke-width: 3.4;stroke-dasharray:0.6 1.2"/>
<ellipse class="lw" cx="824.4" cy="476.2" rx="2.3" ry="2.5" style="stroke: #666;stroke-width: 0.9;fill:#bbb"/>
<path class="lw" d="M706.2 487 C706.5 484.7 708 484.6 709 484 C710 483.4 710.7 483.4 712.1 483.6 C713.5 483.8 715.6 484.4 717.2 485.3 C718.9 486.2 720.9 487.1 722 489 C723.1 490.9 724 494.2 724 497 C724 499.8 723.3 504.2 722 506 C720.7 507.8 718 508.2 716 508 C714 507.8 711.5 506.7 710 505 C708.5 503.3 707.6 501 707 498 C706.4 495 705.9 489.3 706.2 487Z" style="stroke:#858585"/>
<ellipse class="l" cx="713" cy="496" rx="3.2" ry="9.5" transform="rotate(-20 713 496)" style="stroke:#bbbbbb;stroke-width:0.96"/>
<ellipse class="l" cx="715.4" cy="496.8" rx="3.2" ry="9.5" transform="rotate(-20 715.4 496.8)" style="stroke:#bbbbbb;stroke-width:0.96"/>
<ellipse class="l" cx="717.8" cy="497.6" rx="3.2" ry="9.5" transform="rotate(-20 717.8 497.6)" style="stroke:#bbbbbb;stroke-width:0.96"/>
<ellipse class="l" cx="720.2" cy="498.4" rx="3.2" ry="9.5" transform="rotate(-20 720.2 498.4)" style="stroke:#bbbbbb;stroke-width:0.96"/>
<path class="lw" d="M724 490 C724.9 490.4 727.7 492.3 729.2 492.1 C730.7 491.9 731.9 489.6 733 489 C734.1 488.4 734.8 487.9 736 488.7 C737.2 489.5 739.5 491.8 740.2 493.8 C740.9 495.8 740.9 499.1 740.2 500.6 C739.5 502.1 737.3 502.4 736 503 C734.7 503.6 734 503 732.6 504 C731.2 505 729.3 508.9 727.5 509.2 C725.7 509.5 722.9 506.5 722 506" style="stroke:#858585"/>
<path class="lw" d="M716 507 C716.3 508.2 717 512.5 718 514 C719 515.5 720.7 516.2 722 516 C723.3 515.8 725.1 514.1 726 513 C726.9 511.9 727.2 509.8 727.5 509.2" style="stroke:#858585"/>
<ellipse class="l" cx="721.5" cy="512.4" rx="2.6" ry="2.4" style="fill:#333;stroke:#5c5c5c"/>
<path class="l" d="M744.5 529.5 L748 533" style="stroke: #1e1e1e;stroke-width: 3;stroke-linecap:round"/>
<ellipse class="lw" cx="751.3" cy="535.6" rx="3.6" ry="3.4" style="stroke:#777777;stroke-width:1.76"/>
<ellipse class="l" cx="752" cy="536" rx="1.8" ry="1.7" />
<path class="lw" d="M698.5 556.6 C700.2 555.8 702.8 555.1 705 555 C707.2 554.9 709.5 555.7 712 556 C714.5 556.3 718 556.2 719.8 557 C721.6 557.8 722.8 559.5 723 561 C723.2 562.5 721.4 563.9 721 566 C720.6 568.1 721.8 572.2 720.6 573.9 C719.4 575.6 716.1 576 714 576 C711.9 576 710.3 574.9 708 574 C705.7 573.1 702.1 571.8 700 570.5 C697.9 569.2 696.3 567.8 695.5 566 C694.7 564.2 694.5 561.6 695 560 C695.5 558.4 696.8 557.4 698.5 556.6Z" style="stroke:#858585"/>
<ellipse class="l" cx="698.5" cy="563.6" rx="3.8" ry="6.8" transform="rotate(-15 698.5 563.6)" style="stroke:#858585"/>
<ellipse class="l" cx="716" cy="573" rx="4.5" ry="3.5" style="stroke:#a0a0a0"/>
<ellipse class="l" cx="719.8" cy="561.1" rx="2.4" ry="2.2" style="fill:#444;stroke:#5c5c5c"/>
<path class="l" d="M741.5 578.5 L745 582" style="stroke: #1e1e1e;stroke-width: 3;stroke-linecap:round"/>
<ellipse class="lw" cx="748.7" cy="584.1" rx="3.6" ry="3.4" style="stroke:#777777;stroke-width:1.76"/>
<ellipse class="l" cx="749.4" cy="584.5" rx="1.8" ry="1.7" />
<ellipse class="l" cx="684" cy="550" rx="5.5" ry="6.5" transform="rotate(30 684 550)" style="stroke:#858585;stroke-width:1.76"/>
<ellipse class="l" cx="684" cy="550" rx="4" ry="5" transform="rotate(30 684 550)" style="stroke:#a0a0a0"/>
<ellipse class="lw" cx="541.5" cy="582.7" rx="21" ry="17" transform="rotate(-48 541.5 582.7)" style="stroke:#696969;stroke-width:1.76;fill:#e6e6e6"/>
<ellipse class="l" cx="542.5" cy="583.2" rx="21" ry="17" transform="rotate(-48 542.5 583.2)" style="stroke:#959595;stroke-width:1.12"/>
<ellipse class="l" cx="543.5" cy="583.7" rx="21" ry="17" transform="rotate(-48 543.5 583.7)" style="stroke:#959595;stroke-width:1.12"/>
<ellipse class="l" cx="544.5" cy="584.2" rx="21" ry="17" transform="rotate(-48 544.5 584.2)" style="stroke:#959595;stroke-width:1.12"/>
<ellipse class="lw" cx="545.5" cy="584.7" rx="21" ry="17" transform="rotate(-48 545.5 584.7)" style="stroke:#696969;stroke-width:1.60"/>
<ellipse class="l" cx="545.5" cy="584.7" rx="15.5" ry="12.2" transform="rotate(-48 545.5 584.7)" style="stroke:#585858;stroke-width:2.40"/>
<ellipse class="l" cx="546" cy="585" rx="13" ry="10.2" transform="rotate(-48 546 585)" style="stroke:#a0a0a0;stroke-width:1.28"/>
<path class="lw" d="M740.5 612.7 C741 610.5 742.7 607.2 744.2 605.8 C745.7 604.4 747.7 604 749.7 604.4 C751.7 604.8 754 606.7 756.1 608.1 C758.2 609.5 760.2 611.6 762.5 612.7 C764.8 613.8 767.2 614.3 769.8 614.9 C772.4 615.5 775.1 615.6 778 616.3 C780.9 617 784 618.2 787.2 619.1 C790.4 620 794.7 620.9 797.3 621.8 C799.9 622.7 801.7 623.4 802.8 624.6 C803.9 625.8 804 627.6 803.7 629.1 C803.4 630.6 801.7 632.3 800.9 633.7 C800.1 635.1 799.5 635.4 799.1 637.4 C798.7 639.4 799 643 798.2 645.6 C797.4 648.2 796.5 651.2 794.5 653 C792.5 654.8 789 655.4 786.3 656.6 C783.5 657.8 782 659.5 778 660.3 C774 661.1 767.4 661.1 762.5 661.2 C757.6 661.4 751.9 661.7 748.7 661.2 C745.5 660.7 744.3 660.1 743.2 658.4 C742.1 656.7 742 653.2 742.3 651.1 C742.6 649 744.3 647.6 745 645.6 C745.7 643.6 746.4 642.6 746.4 639.2 C746.4 635.9 745.8 628.9 745 625.5 C744.2 622.1 742.1 621.2 741.4 619.1 C740.6 617 740 614.9 740.5 612.7Z" style="stroke:#858585;stroke-width:1.60"/>
<path class="l" d="M741.5 618 C742.1 618.4 743.6 620 745 620.5 C746.4 621 748.3 621.3 750 621 C751.7 620.7 753.8 619.8 755 618.5 C756.2 617.2 756.7 613.9 757 613" style="stroke:#a0a0a0"/>
<ellipse class="l" cx="748.7" cy="614" rx="2.4" ry="2.9" style="stroke:#777777;stroke-width:1.60"/>
<path class="l" d="M756.1 620.9 L757 649.3" style="stroke:#adadad"/>
<path class="l" d="M745 649 L753 648 L756 652 L754 660" style="stroke:#a0a0a0"/>
<ellipse class="l" cx="750.1" cy="654.8" rx="2.4" ry="2.6" style="stroke:#5c5c5c;stroke-width:1.76"/>
<path class="l" d="M784 618 L790 627 L794 640 L796 652" style="stroke:#adadad"/>
<ellipse class="l" cx="799.1" cy="628.5" rx="2.2" ry="3" style="stroke:#858585"/>
<ellipse class="lw" cx="770" cy="643.8" rx="10.3" ry="15.6" transform="rotate(-15 770 643.8)" style="stroke:#616161;stroke-width:2.40"/>
<ellipse class="l" cx="767.2" cy="646" rx="6.9" ry="11" transform="rotate(-15 767.2 646)" style="stroke:#929292;stroke-width:1.60"/>
<ellipse class="l" cx="766" cy="646.5" rx="4.5" ry="8" transform="rotate(-15 766 646.5)" style="stroke:#adadad"/>
<path class="lw" d="M819 619 C819.5 617.2 820.8 616.8 822 616.5 C823.2 616.2 824.8 616.6 826 617 C827.2 617.4 827.8 618.3 829 619 C830.2 619.7 832.2 620 833 621 C833.8 622 834.2 623.7 834 625 C833.8 626.3 833 628.1 832 629 C831 629.9 829.5 630.3 828 630.5 C826.5 630.7 824.5 630.6 823 630 C821.5 629.4 819.7 628.8 819 627 C818.3 625.2 818.5 620.8 819 619Z" style="stroke:#858585;stroke-width:1.76"/>
<ellipse class="lw" cx="821.5" cy="623.5" rx="3" ry="6" transform="rotate(-10 821.5 623.5)" style="stroke:#858585;stroke-width:1.60"/>
<ellipse class="l" cx="821.5" cy="623.5" rx="1.3" ry="2.6" transform="rotate(-10 821.5 623.5)" style="stroke:#a0a0a0"/>
<path class="l" d="M826 617.5 L828 630" style="stroke:#adadad"/>
<path class="lw" d="M669.5 685.8 L718.3 668.1 L719.5 664 L716 661.6 L667.1 679.2" style="stroke:#777777;stroke-width:1.44"/>
<path class="lw" d="M673.9 684.9 L668.4 691.1 L660 689.7 L657.1 682.1 L662.6 675.9 L671 677.3Z" style="stroke:#777777;stroke-width:1.44;fill:#fafafa"/>
<ellipse class="lw" cx="666.9" cy="683" rx="4.7" ry="5.3" transform="rotate(-19.855214369321054 666.9 683)" style="stroke:#5c5c5c;stroke-width:1.92"/>
<path class="l" d="M805.3 657.2 L812.3 662.9" style="stroke: #1a1a1a;stroke-width: 4.2;stroke-linecap:round"/>
<path class="l" d="M805.3 657.2 L812.3 662.9" style="stroke: #777;stroke-width: 4.2;stroke-dasharray:0.8 1.6"/>
<path class="l" d="M811 664.5 L818.9 671" style="stroke:#777777"/>
<path class="l" d="M813.5 661.4 L821.5 667.9" style="stroke:#777777"/>
<path class="lw" d="M828.3 673.3 L824.6 677 L819.6 675.7 L818.3 670.7 L822 667 L827 668.3Z" style="stroke:#696969;stroke-width:1.76"/>
<ellipse class="l" cx="824.1" cy="672.6" rx="3" ry="3.2" style="stroke:#777777"/>
<path class="l" d="M806.7 697.5 L813.8 703" style="stroke: #1a1a1a;stroke-width: 4.2;stroke-linecap:round"/>
<path class="l" d="M806.7 697.5 L813.8 703" style="stroke: #777;stroke-width: 4.2;stroke-dasharray:0.8 1.6"/>
<path class="l" d="M812.6 704.6 L820.3 710.5" style="stroke:#777777"/>
<path class="l" d="M815 701.4 L822.8 707.4" style="stroke:#777777"/>
<path class="lw" d="M829.7 712.7 L826 716.4 L821 715.1 L819.7 710.1 L823.4 706.4 L828.4 707.7Z" style="stroke:#696969;stroke-width:1.76"/>
<ellipse class="l" cx="825.5" cy="712" rx="3" ry="3.2" style="stroke:#777777"/>
<path class="l" d="M859.4 677.2 L870 684.5" style="stroke:#777777;stroke-width:5.76;stroke-linecap:round"/>
<path class="l" d="M859.6 677.4 L870 684.5" style="stroke:#ffffff;stroke-width:3.20"/>
<ellipse class="lw" cx="873.9" cy="687.2" rx="4.6" ry="4.6" style="stroke:#696969"/>
<ellipse class="l" cx="874.5" cy="687.5" rx="3" ry="3" />
<path class="dash" d="M479 88 L479 316"/>
<path class="dash" d="M323.7 101 L351.3 195"/>
<path class="dash" d="M255 295 L440 439 L558 529 L501 553 L540 583"/>
<path class="dash" d="M211 355 L380 474.5"/>
<path class="dash" d="M380 474.5 L437.8 519"/>
<path class="dash" d="M424.5 493.4 L489 542.3"/>
<path class="dash" d="M297 510 L257 485 L327.5 455"/>
<path class="dash" d="M573 516 L806.7 697.5"/>
<path class="dash" d="M703 433 L821 474.5"/>
<path class="dash" d="M680 483 L747 531"/>
<path class="dash" d="M655 513 L745 579"/>
<path class="dash" d="M563 208.5 L623.3 255.8 L561.7 284.2 L613.3 323.3 L673.3 299.2 L705 319"/>
<ellipse class="lw" cx="479.5" cy="81.5" rx="7.2" ry="5.5" style="stroke:#696969"/>
<path class="l" d="M474 83 C474.5 82.3 475.7 79.5 477 79 C478.3 78.5 480.7 80.3 482 80 C483.3 79.7 484.5 77.5 485 77" />
<path class="l" d="M476 85 C476.7 84.7 478.7 83 480 83 C481.3 83 483.3 84.7 484 85" />
<path class="lw" d="M475.1 108 L477 105.5 L483 105.5 L484.5 108 L484.5 118.9 L475.1 118.9Z" style="stroke:#696969"/>
<path class="l" d="M477 112 L483 111" />
<path class="l" d="M477 116 L483 115" />
<path class="lt" d="M480 108 L480 118" />
<ellipse class="lw" cx="479.5" cy="137.6" rx="8.2" ry="5" style="stroke:#5c5c5c"/>
<ellipse class="l" cx="479.5" cy="137" rx="5.8" ry="3.4" />
<path class="lw" d="M473 139.5 L473.5 145.5 C476 147.5 483 147.5 485.5 145.5 L486 139.5" style="fill:#5a5a5a;stroke:#5c5c5c"/>
<path class="lw" d="M475.9 147 L475.9 151.3 L483 151.3 L483 147" />
<ellipse class="lw" cx="479.2" cy="167.8" rx="6.9" ry="3.6" style="stroke:#696969;stroke-width:1.60"/>
<ellipse class="l" cx="479.2" cy="167.8" rx="3.4" ry="1.7" />
<ellipse class="lw" cx="436.6" cy="518.6" rx="4.6" ry="6" transform="rotate(-10 436.6 518.6)" style="stroke:#a0a0a0;stroke-width:1.44"/>
<path class="l" d="M436.6 512.6 L440.1 514" style="stroke:#a0a0a0"/>
<path class="l" d="M436.6 524.6 L440.1 526.2" style="stroke:#a0a0a0"/>
<ellipse class="lw" cx="440.1" cy="520.1" rx="4.9" ry="6.1" transform="rotate(-10 440.1 520.1)" style="stroke:#616161;stroke-width:2.24"/>
<ellipse class="l" cx="440.4" cy="520.4" rx="2.4" ry="2.8" transform="rotate(-10 440.4 520.4)" style="stroke:#929292"/>
<ellipse class="lw" cx="486.8" cy="542" rx="4.6" ry="6" transform="rotate(-10 486.8 542)" style="stroke:#a0a0a0;stroke-width:1.44"/>
<path class="l" d="M486.8 536 L490.3 537.4" style="stroke:#a0a0a0"/>
<path class="l" d="M486.8 548 L490.3 549.6" style="stroke:#a0a0a0"/>
<ellipse class="lw" cx="490.3" cy="543.5" rx="4.9" ry="6.1" transform="rotate(-10 490.3 543.5)" style="stroke:#616161;stroke-width:2.24"/>
<ellipse class="l" cx="490.6" cy="543.8" rx="2.4" ry="2.8" transform="rotate(-10 490.6 543.8)" style="stroke:#929292"/>
<path class="lw" d="M304.3 512.2 L299.8 518.8 L292 518.1 L288.7 510.8 L293.2 504.2 L301 504.9Z" style="stroke:#888888;stroke-width:2.08;fill:#f4f4f4"/>
<ellipse class="lw" cx="299" cy="514" rx="4.8" ry="5.5" transform="rotate(-20 299 514)" style="stroke:#888888;stroke-width:1.92"/>
<ellipse class="l" cx="299.5" cy="514.5" rx="2.5" ry="3.1" transform="rotate(-20 299.5 514.5)" style="stroke:#a0a0a0"/>
<path class="l" d="M291.8 509.9 L294.9 518.5" style="stroke:#a0a0a0"/>
<path class="l" d="M295.7 505.3 L300.4 509.9" style="stroke:#a0a0a0"/>
<path class="lw" d="M720.3 324 L715.6 331 L707.4 330.2 L703.9 322.6 L708.6 315.6 L716.8 316.4Z" style="stroke:#888888;stroke-width:2.08;fill:#f4f4f4"/>
<ellipse class="lw" cx="714.6" cy="325.8" rx="5.1" ry="5.7" transform="rotate(-20 714.6 325.8)" style="stroke:#888888;stroke-width:1.92"/>
<ellipse class="l" cx="715.1" cy="326.3" rx="2.6" ry="3.3" transform="rotate(-20 715.1 326.3)" style="stroke:#a0a0a0"/>
<path class="l" d="M707.2 321.7 L710.5 330.7" style="stroke:#a0a0a0"/>
<path class="l" d="M711.3 316.7 L716.2 321.7" style="stroke:#a0a0a0"/>
<line class="ldr" x1="322.5" y1="64" x2="322.5" y2="91"/>
<line class="ldr" x1="411.8" y1="64" x2="412" y2="99"/>
<line class="ldr" x1="512" y1="61" x2="485" y2="80"/>
<line class="ldr" x1="512" y1="90" x2="485" y2="107"/>
<line class="ldr" x1="512" y1="121" x2="486" y2="136"/>
<line class="ldr" x1="512" y1="150" x2="485" y2="165"/>
<line class="ldr" x1="360.8" y1="100.5" x2="347.5" y2="147.5"/>
<line class="ldr" x1="258.2" y1="141" x2="258.2" y2="177.5"/>
<line class="ldr" x1="297.5" y1="141" x2="306.2" y2="196"/>
<line class="ldr" x1="592.5" y1="158" x2="550" y2="190"/>
<line class="ldr" x1="642" y1="195" x2="610" y2="217.5"/>
<line class="ldr" x1="715" y1="249.5" x2="525" y2="389"/>
<line class="ldr" x1="187.5" y1="271" x2="232.5" y2="286"/>
<line class="ldr" x1="757.5" y1="285.5" x2="720" y2="317.5"/>
<line class="ldr" x1="794" y1="323" x2="705" y2="390"/>
<line class="ldr" x1="828" y1="354" x2="770" y2="396"/>
<line class="ldr" x1="859" y1="383" x2="803" y2="426"/>
<line class="ldr" x1="889" y1="412" x2="835" y2="449"/>
<line class="ldr" x1="138.7" y1="363.5" x2="176" y2="341"/>
<line class="ldr" x1="193.8" y1="415.5" x2="227.5" y2="395"/>
<line class="ldr" x1="889" y1="473.8" x2="862.5" y2="473"/>
<line class="ldr" x1="785" y1="500.5" x2="740" y2="493"/>
<line class="ldr" x1="785" y1="535" x2="755" y2="534.3"/>
<line class="ldr" x1="266" y1="536.5" x2="290" y2="520"/>
<line class="ldr" x1="762.5" y1="559" x2="722.5" y2="559"/>
<line class="ldr" x1="842" y1="571.5" x2="794" y2="619.5"/>
<line class="ldr" x1="440" y1="580" x2="437.5" y2="525"/>
<line class="ldr" x1="448.7" y1="581" x2="486" y2="547.5"/>
<line class="ldr" x1="654" y1="582" x2="680" y2="556"/>
<line class="ldr" x1="784.4" y1="584.4" x2="751" y2="584.4"/>
<line class="ldr" x1="860" y1="623" x2="832" y2="623"/>
<line class="ldr" x1="540" y1="640.5" x2="540" y2="605"/>
<line class="ldr" x1="902.5" y1="687.6" x2="880" y2="687.2"/>
<line class="ldr" x1="691.4" y1="719" x2="691.4" y2="681"/>
<line class="ldr" x1="829.5" y1="676.3" x2="865" y2="717.2"/>
<line class="ldr" x1="829.5" y1="716.5" x2="865" y2="730.8"/>
<g class="lab"><circle cx="322.5" cy="55" r="9.2"/><text x="322.5" y="59.8">23</text></g>
<g class="lab"><circle cx="411.8" cy="55" r="9.2"/><text x="411.8" y="59.8">19</text></g>
<g class="lab"><circle cx="518.8" cy="55" r="8.6"/><text x="518.8" y="59.8">9</text></g>
<g class="lab"><circle cx="518.8" cy="84" r="9.2"/><text x="518.8" y="88.8">17</text></g>
<g class="lab"><circle cx="363" cy="92" r="9.2"/><text x="363" y="96.8">22</text></g>
<g class="lab"><circle cx="518.8" cy="115" r="8.6"/><text x="518.8" y="119.8">8</text></g>
<g class="lab"><circle cx="518.8" cy="144" r="9.2"/><text x="518.8" y="148.8">18</text></g>
<g class="lab"><circle cx="258" cy="132.5" r="9.2"/><text x="258" y="137.3">14</text></g>
<g class="lab"><circle cx="296.5" cy="132.5" r="9.2"/><text x="296.5" y="137.3">15</text></g>
<g class="lab"><circle cx="600.8" cy="152.5" r="8.6"/><text x="600.8" y="157.3">2</text></g>
<g class="lab"><circle cx="648.8" cy="190" r="9.2"/><text x="648.8" y="194.8">21</text></g>
<g class="lab"><circle cx="722.5" cy="244.5" r="9.2"/><text x="722.5" y="249.3">16</text></g>
<g class="lab"><circle cx="178.8" cy="267.5" r="8.6"/><text x="178.8" y="272.3">7</text></g>
<g class="lab"><circle cx="765" cy="279.5" r="8.6"/><text x="765" y="284.3">3</text></g>
<g class="lab"><circle cx="801.5" cy="318" r="8.6"/><text x="801.5" y="322.8">1</text></g>
<g class="lab"><circle cx="835.8" cy="349" r="9.2"/><text x="835.8" y="353.8">24</text></g>
<g class="lab"><circle cx="130" cy="368" r="8.6"/><text x="130" y="372.8">2</text></g>
<g class="lab"><circle cx="866" cy="377.5" r="9.2"/><text x="866" y="382.3">25</text></g>
<g class="lab"><circle cx="896.3" cy="405.8" r="9.2"/><text x="896.3" y="410.6">27</text></g>
<g class="lab"><circle cx="185.5" cy="420" r="9.2"/><text x="185.5" y="424.8">20</text></g>
<g class="lab"><circle cx="897.5" cy="473.8" r="9.2"/><text x="897.5" y="478.6">26</text></g>
<g class="lab"><circle cx="793.3" cy="501.8" r="9.2"/><text x="793.3" y="506.6">12</text></g>
<g class="lab"><circle cx="793.3" cy="535.5" r="9.2"/><text x="793.3" y="540.3">13</text></g>
<g class="lab"><circle cx="258" cy="541.8" r="8.6"/><text x="258" y="546.5999999999999">3</text></g>
<g class="lab"><circle cx="771.3" cy="559.5" r="9.2"/><text x="771.3" y="564.3">10</text></g>
<g class="lab"><circle cx="849.3" cy="563" r="8.6"/><text x="849.3" y="567.8">4</text></g>
<g class="lab"><circle cx="440.8" cy="589.3" r="8.6"/><text x="440.8" y="594.0999999999999">6</text></g>
<g class="lab"><circle cx="648.3" cy="589.5" r="9.2"/><text x="648.3" y="594.3">11</text></g>
<g class="lab"><circle cx="792.8" cy="584.4" r="9.2"/><text x="792.8" y="589.1999999999999">13</text></g>
<g class="lab"><circle cx="869.2" cy="623.3" r="8.6"/><text x="869.2" y="628.0999999999999">3</text></g>
<g class="lab"><circle cx="540" cy="649.5" r="8.6"/><text x="540" y="654.3">7</text></g>
<g class="lab"><circle cx="911.2" cy="687.6" r="9.2"/><text x="911.2" y="692.4">5A</text></g>
<g class="lab"><circle cx="691.4" cy="727.5" r="8.6"/><text x="691.4" y="732.3">2</text></g>
<g class="lab"><circle cx="882" cy="736.2" r="8.6"/><text x="882" y="741.0">5</text></g>
<circle cx="869.4" cy="719.2" r="4.6" fill="#ec3a2e"/>
<circle cx="869.4" cy="732.6" r="4.6" fill="#f4d52c"/>
<circle cx="869.4" cy="745.8" r="4.6" fill="#3fa943"/>
</g>
</svg>
</body></html>
